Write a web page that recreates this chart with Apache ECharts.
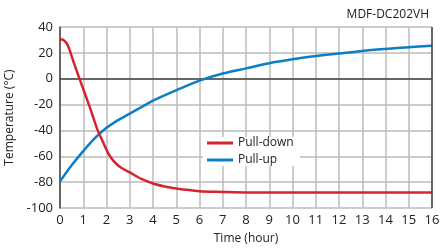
<!DOCTYPE html>
<html>
<head>
<meta charset="utf-8">
<script src="https://cdn.jsdelivr.net/npm/echarts@6/dist/echarts.min.js"></script>
<style>
  html, body { margin: 0; padding: 0; background: #fff; }
  #chart { width: 440px; height: 251px; }
</style>
</head>
<body>
<div id="chart"></div>
<script>
var title = "MDF-DC202VH";
var seriesNames = ["Pull-down", "Pull-up"];

var downHours = [0, 0.15, 0.33, 0.6, 1, 1.3, 1.6, 1.8, 1.95, 2.1, 2.3, 2.6, 3, 3.5, 4, 4.5, 5, 6, 7, 8, 10, 12, 14, 16];
var downTemps = [30.5, 30, 26, 12, -8, -23, -39, -47, -53, -58.5, -63.5, -68.5, -72.5, -77.5, -81, -83.3, -85, -87, -87.6, -88, -88, -88, -88, -88];

var upHours = [0, 0.5, 1, 1.5, 2, 2.5, 3, 3.5, 4, 5, 6, 7, 8, 9, 10, 11, 12, 13, 14, 15, 16];
var upTemps = [-79.5, -67, -56, -46, -38, -32, -27, -22, -17, -9, -1.5, 4, 8, 12, 15, 17.5, 19.5, 21.5, 23, 24.3, 25.5];

function pairs(xs, ys) {
  return xs.map(function (x, i) { return [x, ys[i]]; });
}

var chart = echarts.init(document.getElementById("chart"));
var font = "'Open Sans', sans-serif";

chart.setOption({
  animation: false,
  textStyle: { fontFamily: font },
  title: {
    text: title,
    right: 6,
    top: 4,
    textStyle: { fontSize: 12, fontWeight: "normal", color: "#222", fontFamily: font }
  },
  grid: { left: 60, right: 8, top: 27, bottom: 43, outerBoundsMode: "none", containLabel: false },
  legend: {
    orient: "vertical",
    left: 203,
    top: 137,
    itemWidth: 26,
    itemHeight: 3,
    itemGap: 5,
    padding: [0, 6, 0, 4],
    backgroundColor: "#fff",
    icon: "rect",
    textStyle: { fontSize: 12, color: "#222", fontFamily: font },
    data: seriesNames
  },
  xAxis: {
    type: "value",
    min: 0,
    max: 16,
    interval: 1,
    name: "Time (hour)",
    nameLocation: "middle",
    nameGap: 25,
    nameTextStyle: { fontSize: 12, color: "#222" },
    axisLine: { lineStyle: { color: "#444", width: 1.5 } },
    axisTick: { show: false },
    axisLabel: { fontSize: 13, color: "#222", margin: 6 },
    splitLine: { show: true, lineStyle: { color: "#bbb", width: 1.5 } }
  },
  yAxis: {
    type: "value",
    min: -100,
    max: 40,
    interval: 20,
    name: "Temperature (°C)",
    nameLocation: "middle",
    nameGap: 42,
    nameTextStyle: { fontSize: 12, color: "#222" },
    axisLine: { show: true, lineStyle: { color: "#444", width: 1.5 } },
    axisTick: { show: false },
    axisLabel: { fontSize: 13, color: "#222", margin: 7 },
    splitLine: { show: true, lineStyle: { color: "#bbb", width: 1.5 } }
  },
  series: [
    {
      name: seriesNames[0],
      type: "line",
      smooth: 0.3,
      showSymbol: false,
      color: "#d52330",
      lineStyle: { width: 2.5 },
      z: 3,
      data: pairs(downHours, downTemps)
    },
    {
      name: seriesNames[1],
      type: "line",
      smooth: 0.3,
      showSymbol: false,
      color: "#0e7ec4",
      lineStyle: { width: 2.5 },
      z: 2,
      data: pairs(upHours, upTemps)
    },
    {
      type: "line",
      silent: true,
      showSymbol: false,
      data: [],
      markLine: {
        silent: true,
        symbol: "none",
        label: { show: false },
        lineStyle: { color: "#444", width: 1.5, type: "solid" },
        data: [{ xAxis: 16 }]
      }
    }
  ]
});
</script>
</body>
</html>
